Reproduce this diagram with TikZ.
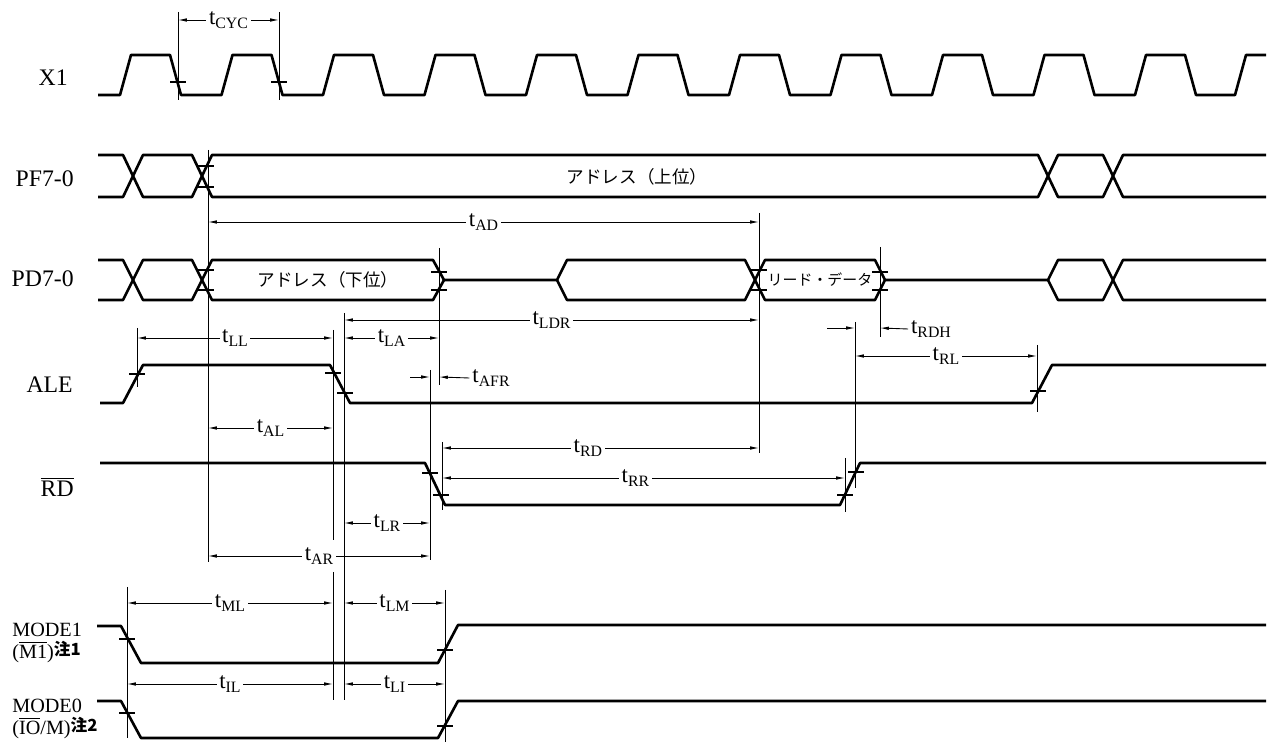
\documentclass[tikz,border=0pt]{standalone}
\usepackage{fontspec}
\setmainfont{Liberation Serif}
\newfontfamily\jpfont{Noto Sans CJK JP}
\usetikzlibrary{arrows.meta}

\newcommand{\tsym}[1]{t\raisebox{-2.5pt}{\fontsize{9}{9}\selectfont #1}}

\begin{document}
\begin{tikzpicture}[x=0.02cm, y=-0.02cm,
    wave/.style={line width=1.5pt, line join=round},
    guide/.style={line width=0.5pt},
    tick/.style={line width=0.7pt},
    dim/.style={line width=0.5pt, {Latex[length=5pt,width=2pt]}-{Latex[length=5pt,width=2pt]}},
    half/.style={line width=0.5pt, -{Latex[length=5pt,width=2pt]}},
    dimlbl/.style={fill=white, inner sep=1.5pt, font=\fontsize{13}{13}\selectfont},
    siglbl/.style={anchor=east, inner sep=0pt, font=\fontsize{13.5}{14}\selectfont},
    modelbl/.style={anchor=west, align=left, inner sep=0pt, font=\fontsize{11.5}{12.5}\selectfont}]

      \useasboundingbox (0,0) rectangle (1271,742);

      % Signal names
      \node[siglbl] (nX) at (68,78) {X1};
      \node[siglbl] (nPF) at (74,179) {PF7-0};
      \node[siglbl] (nPD) at (74,279) {PD7-0};
      \node[siglbl] (nALE) at (73,385) {ALE};
      \node[siglbl] (nRD) at (74,487) {\(\overline{\mbox{RD}}\)};
      \node[modelbl] (nM1) at (12,643)
        {MODE1\\(\(\overline{\mbox{M1}}\))\raisebox{2pt}{\fontsize{9.5}{9.5}\jpfont\bfseries 注1}};
      \node[modelbl] (nM0) at (12,719)
        {MODE0\\(\(\overline{\mbox{IO}}\)/M)\raisebox{2pt}{\fontsize{9.5}{9.5}\jpfont\bfseries 注2}};

      % Clock X1
      \draw[wave] (98,95) \foreach \k in {0,...,10} {
          -- ({120+101.5*\k},95) -- ({131+101.5*\k},55) -- ({170+101.5*\k},55) -- ({181+101.5*\k},95)}
          -- (1235,95) -- (1246,55) -- (1266,55);

      % PF7-0 bus
      \draw[wave] (98,155) -- (123,155) -- (143,197) -- (192,197) -- (212,155) -- (1038,155)
          -- (1058,197) -- (1103,197) -- (1123,155) -- (1266,155);
      \draw[wave] (98,197) -- (123,197) -- (143,155) -- (192,155) -- (212,197) -- (1038,197)
          -- (1058,155) -- (1103,155) -- (1123,197) -- (1266,197);
      \node[font=\fontsize{10}{10}\jpfont] (aHi) at (637,177) {アドレス（上位）};

      % PD7-0 bus
      \draw[wave] (98,260) -- (123,260) -- (143,300) -- (192,300) -- (212,260) -- (433,260) -- (444,280)
          -- (557,280) -- (567,260) -- (745,260) -- (765,300) -- (875,300) -- (885,280)
          -- (1048,280) -- (1058,260) -- (1103,260) -- (1123,300) -- (1266,300);
      \draw[wave] (98,300) -- (123,300) -- (143,260) -- (192,260) -- (212,300) -- (433,300) -- (444,280);
      \draw[wave] (557,280) -- (567,300) -- (745,300) -- (765,260) -- (875,260) -- (885,280);
      \draw[wave] (1048,280) -- (1058,300) -- (1103,300) -- (1123,260) -- (1266,260);
      \node[font=\fontsize{10}{10}\jpfont] (aLo) at (328,280) {アドレス（下位）};
      \node[font=\fontsize{8.5}{8.5}\jpfont, inner sep=0pt] (rData) at (820,280) {リード・データ};

      % ALE
      \draw[wave] (100,403) -- (123,403) -- (143,365) -- (330,365) -- (350,403) -- (1032,403)
          -- (1052,365) -- (1266,365);

      % RD
      \draw[wave] (100,463) -- (425,463) -- (445,505) -- (840,505) -- (860,463) -- (1266,463);

      % MODE1 and MODE0
      \draw[wave] (97,626) -- (121,626) -- (141,663) -- (438,663) -- (458,625) -- (1266,625);
      \draw[wave] (97,701) -- (121,701) -- (141,738) -- (438,738) -- (458,701) -- (1266,701);

      % Guide lines
      \draw[guide] (178,12) -- (178,100);
      \draw[guide] (279,12) -- (279,100);
      \draw[guide] (208,150) -- (208,562);
      \draw[guide] (759,213) -- (759,453);
      \draw[guide] (439,248) -- (439,385);
      \draw[guide] (880,247) -- (880,337);
      \draw[guide] (137,328) -- (137,387);
      \draw[guide] (333,330) -- (333,540);
      \draw[guide] (333,572) -- (333,700);
      \draw[guide] (344,313) -- (344,700);
      \draw[guide] (430,370) -- (430,560);
      \draw[guide] (442,442) -- (442,510);
      \draw[guide] (845,458) -- (845,512);
      \draw[guide] (855,322) -- (855,488);
      \draw[guide] (1037,345) -- (1037,412);
      \draw[guide] (127,587) -- (127,738);
      \draw[guide] (445,590) -- (445,742);

      % Crossing ticks
      \foreach \x/\y in {178/82, 279/82, 206/166, 206/187, 206/270, 206/290, 439/272, 439/290,
          759/270, 759/290, 880/272, 880/290, 137/374, 333/373, 345/393, 1038/391,
          430/473, 441/495, 845/495, 856/472, 127/639, 445/650, 127/713, 445/726}
        \draw[tick] (\x-8,\y) -- (\x+8,\y);

      % Timing parameters
      \draw[dim] (178,20) -- (279,20) node[dimlbl, midway] (lCYC) {\tsym{CYC}};
      \draw[dim] (208,222) -- (759,222) node[dimlbl, midway] (lAD) {\tsym{AD}};
      \draw[dim] (344,320) -- (759,320) node[dimlbl, midway] (lLDR) {\tsym{LDR}};
      \draw[dim] (137,338) -- (333,338) node[dimlbl, midway] (lLL) {\tsym{LL}};
      \draw[dim] (344,338) -- (439,338) node[dimlbl, midway] (lLA) {\tsym{LA}};
      \draw[dim] (855,356) -- (1037,356) node[dimlbl, midway] (lRL) {\tsym{RL}};
      \draw[dim] (208,428) -- (333,428) node[dimlbl, midway] (lAL) {\tsym{AL}};
      \draw[dim] (442,448) -- (759,448) node[dimlbl, pos=0.46] (lRD) {\tsym{RD}};
      \draw[dim] (442,478) -- (845,478) node[dimlbl, pos=0.48] (lRR) {\tsym{RR}};
      \draw[dim] (344,523) -- (430,523) node[dimlbl, midway] (lLR) {\tsym{LR}};
      \draw[dim] (208,556) -- (430,556) node[dimlbl, midway] (lAR) {\tsym{AR}};
      \draw[dim] (127,603) -- (333,603) node[dimlbl, midway] (lML) {\tsym{ML}};
      \draw[dim] (344,603) -- (445,603) node[dimlbl, midway] (lLM) {\tsym{LM}};
      \draw[dim] (127,684) -- (333,684) node[dimlbl, midway] (lIL) {\tsym{IL}};
      \draw[dim] (344,684) -- (445,684) node[dimlbl, midway] (lLI) {\tsym{LI}};

      % Short intervals, arrows from outside
      \node[dimlbl] (lAFR) at (491,378) {\tsym{AFR}};
      \draw[half] (410,377) -- (430,377);
      \draw[half] (lAFR.west) -- (439,377);
      \node[dimlbl] (lRDH) at (931,329) {\tsym{RDH}};
      \draw[half] (827,328) -- (855,328);
      \draw[half] (lRDH.west) -- (880,328);
\end{tikzpicture}
\end{document}
